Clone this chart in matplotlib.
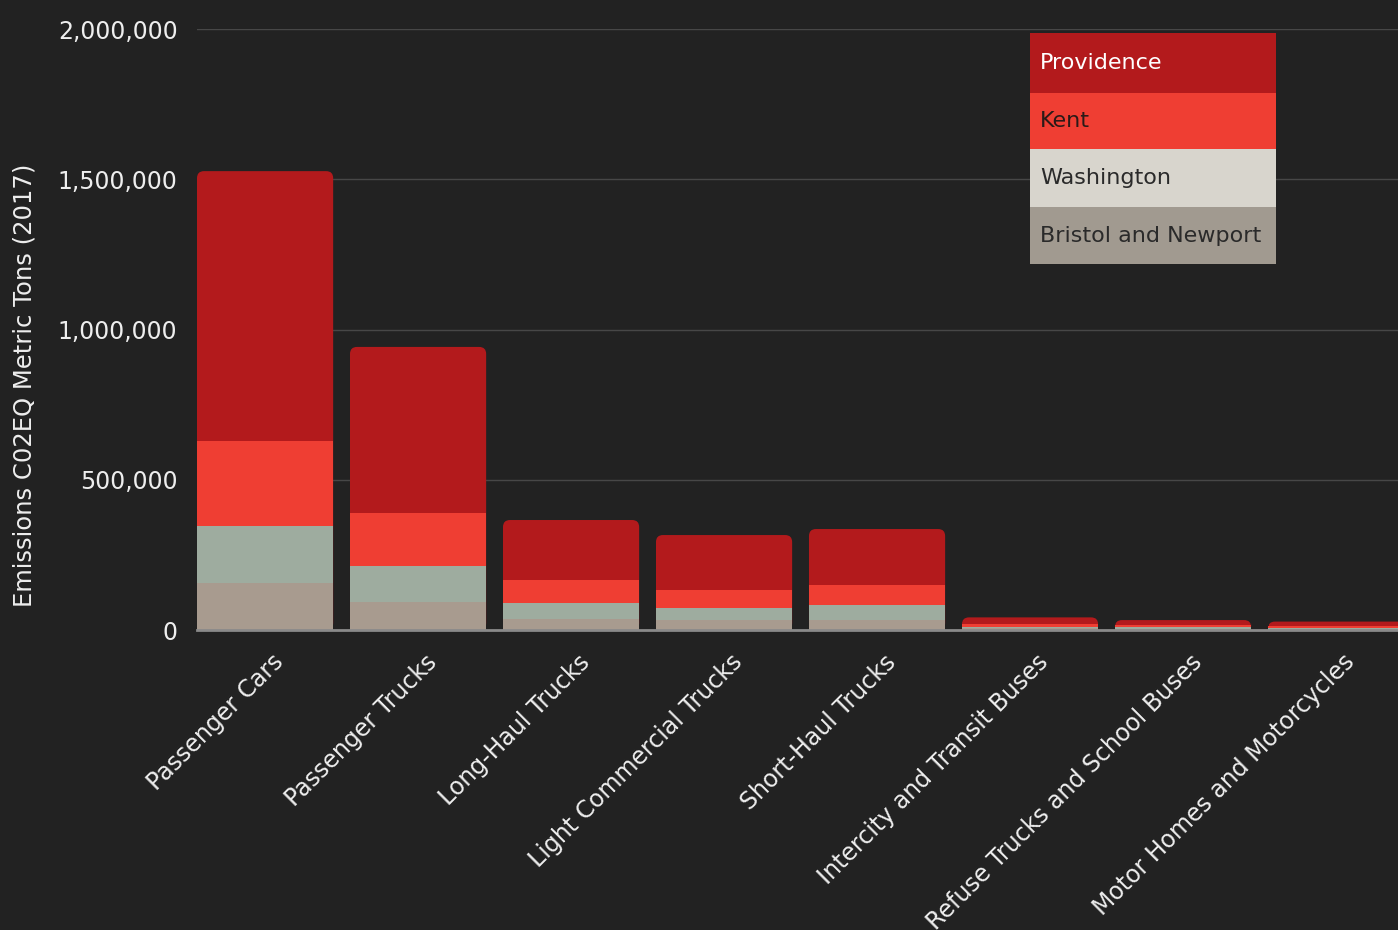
import matplotlib
matplotlib.use("Agg")
import matplotlib.pyplot as plt
from matplotlib.patches import FancyBboxPatch, Rectangle
from matplotlib.ticker import FuncFormatter
from matplotlib.transforms import ScaledTranslation

categories = ["Passenger Cars", "Passenger Trucks", "Long-Haul Trucks",
              "Light Commercial Trucks", "Short-Haul Trucks",
              "Intercity and Transit Buses", "Refuse Trucks and School Buses",
              "Motor Homes and Motorcycles"]
counties = ["Providence", "Kent", "Washington", "Bristol and Newport"]

bristol_newport = [156000, 93000, 37000, 33000, 33000, 5000, 4000, 3000]
washington = [190000, 120000, 53000, 41000, 49000, 6000, 5000, 4000]
kent = [283000, 176000, 76000, 59000, 69000, 8000, 7000, 6000]
providence = [898000, 553000, 200000, 183000, 185000, 23000, 17000, 15000]

bg = "#222222"
bar_colors = {"Providence": "#b31a1c", "Kent": "#ef3e33",
              "Washington": "#9eac9f", "Bristol and Newport": "#a89b8f"}
legend_colors = {"Providence": "#b31a1c", "Kent": "#ef3e33",
                 "Washington": "#d8d5cd", "Bristol and Newport": "#a19a90"}
legend_text = {"Providence": "white", "Kent": "#2a1a18",
               "Washington": "#2a2a2a", "Bristol and Newport": "#2a2a2a"}

W, H = 1398, 930
fig = plt.figure(figsize=(W / 100, H / 100), dpi=100, facecolor=bg)
ax = fig.add_axes([197 / W, 1 - 630 / H, 1 - 197 / W, (630 - 29) / H])
ax.set_facecolor(bg)

x = list(range(len(categories)))
width = 0.89
b1 = bristol_newport
b2 = [a + b for a, b in zip(b1, washington)]
b3 = [a + b for a, b in zip(b2, kent)]
totals = [a + b for a, b in zip(b3, providence)]

ax.set_xlim(-0.445, 7.405)
ax.set_ylim(0, 2000000)

# top segment drawn full-height with rounded corners, lower segments cover its bottom
top_bars = ax.bar(x, totals, width=width, color=bar_colors["Providence"], zorder=2)
y_per_px = 2000000 / 601
x_per_px = 7.85 / 1201
for p in top_bars:
    p.set_visible(False)
    fb = FancyBboxPatch((p.get_x(), 0), p.get_width(), p.get_height(),
                        boxstyle="round,pad=0,rounding_size=%f" % (7 * x_per_px),
                        mutation_aspect=y_per_px / x_per_px,
                        facecolor=bar_colors["Providence"], edgecolor="none", zorder=2)
    ax.add_patch(fb)
ax.bar(x, kent, bottom=b2, width=width, color=bar_colors["Kent"], zorder=3)
ax.bar(x, washington, bottom=b1, width=width, color=bar_colors["Washington"], zorder=3)
ax.bar(x, bristol_newport, width=width, color=bar_colors["Bristol and Newport"], zorder=3)

ax.axhline(0, color="#8a8a8a", lw=2, zorder=4, clip_on=False)

ax.set_yticks([0, 500000, 1000000, 1500000, 2000000])
ax.yaxis.set_major_formatter(FuncFormatter(lambda v, p: f"{int(v):,}"))
ax.grid(axis="y", color="#474747", lw=1, zorder=0)
ax.set_axisbelow(True)
for s in ax.spines.values():
    s.set_visible(False)
ax.tick_params(axis="y", length=0, pad=14, labelsize=17, labelcolor="#eeeeee")
ax.tick_params(axis="x", length=0, pad=14, labelsize=17, labelcolor="#eeeeee")
ax.set_xticks(x)
ax.set_xticklabels(categories, rotation=45, ha="right", va="center",
                   rotation_mode="anchor")
shift = ScaledTranslation(15 / 100, -9 / 100, fig.dpi_scale_trans)
for lbl in ax.get_xticklabels():
    lbl.set_transform(lbl.get_transform() + shift)
ax.set_ylabel("Emissions C02EQ Metric Tons (2017)", fontsize=17.5, color="#eeeeee")
ax.yaxis.set_label_coords((36 - 197) / 1201, (630 - 385) / 601)

# legend block
rows = [(33, 93), (93, 149), (149, 207), (207, 264)]
for name, (t, b) in zip(counties, rows):
    fig.patches.append(Rectangle((1030 / W, 1 - b / H), 246 / W, (b - t) / H,
                                 transform=fig.transFigure, facecolor=legend_colors[name],
                                 edgecolor="none", zorder=10))
    fig.text(1040 / W, 1 - (t + b) / 2 / H, name, fontsize=16, color=legend_text[name],
             va="center", ha="left", zorder=11)

fig.savefig("out.png", dpi=100, facecolor=bg)
